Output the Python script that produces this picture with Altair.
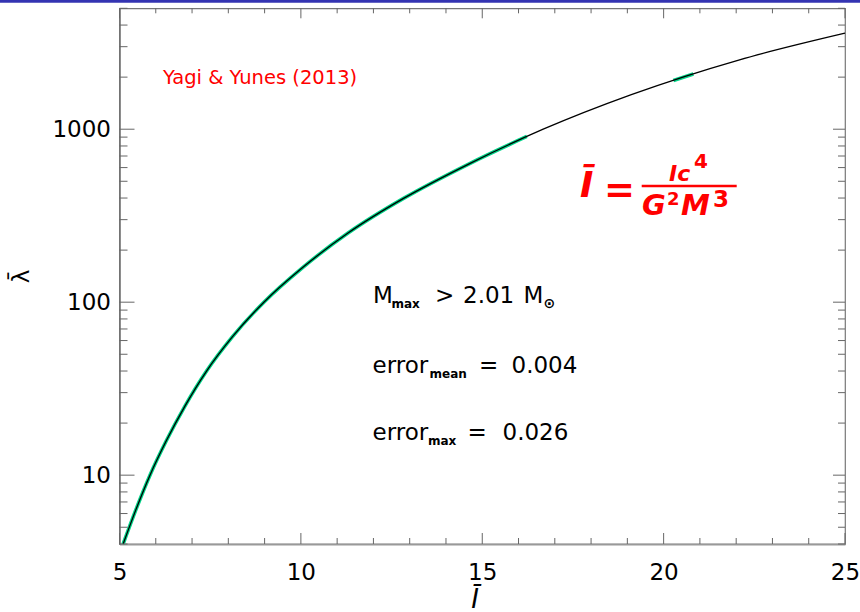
import altair as alt
import pandas as pd

# ---- data ----
I_fit = [5.10, 5.45, 5.84, 6.29, 6.80, 7.40, 8.11, 8.98, 10.04, 11.30, 12.83, 14.64, 16.68, 19.11, 22.07, 25.0]
lam_fit = [4.0, 6.3, 10, 15.8, 25, 40, 63, 100, 158, 251, 398, 631, 1000, 1585, 2512, 3590]

I_data = [5.10, 5.45, 5.84, 6.29, 6.80, 7.40, 8.11, 8.98, 10.04, 11.30, 12.83, 14.64, 16.23, 20.27, 20.82]
lam_data = [4.0, 6.3, 10, 15.8, 25, 40, 63, 100, 158, 251, 398, 631, 908, 1914, 2084]
seg_data = [0] * 13 + [1, 1]

x_major = [5, 10, 15, 20, 25]
x_minor = [v for v in range(6, 25) if v % 5 != 0]
y_major = [10, 100, 1000]
y_minor = [4, 5, 6, 7, 8, 9, 20, 30, 40, 50, 60, 70, 80, 90,
           200, 300, 400, 500, 600, 700, 800, 900, 2000, 3000, 4000, 5000]

# ---- layout ----
L, T = 119.5, 8.3
W, H = 725.5, 535.7
FONT = "DejaVu Sans"
AX = "#666666"
RED = "#FF0000"

xs = alt.Scale(domain=[5, 25], nice=False, zero=False)
ys = alt.Scale(type="log", domain=[4, 5000], nice=False)

xax = alt.Axis(values=x_major, ticks=False, labelFontSize=23, labelFont=FONT,
               labelColor="black", labelBaseline="alphabetic", labelPadding=35,
               labelFlush=False, domainColor="#999999", domainWidth=2, grid=False,
               title=None)
yax = alt.Axis(values=y_major, format="d", ticks=False, labelFontSize=23,
               labelFont=FONT, labelColor="black", labelPadding=9, labelFlush=False,
               domainColor="#555555", domainWidth=1, grid=False, title=None)

fit = pd.DataFrame({"I": I_fit, "lam": lam_fit})
dat = pd.DataFrame({"I": I_data, "lam": lam_data, "seg": seg_data})
one = pd.DataFrame({"k": [0]})

green = alt.Chart(dat).mark_line(color="#00D488", strokeWidth=3.6, interpolate="monotone").encode(
    x=alt.X("I:Q", scale=xs, axis=xax),
    y=alt.Y("lam:Q", scale=ys, axis=yax),
    detail="seg:N",
)

black = alt.Chart(fit).mark_line(color="black", strokeWidth=1.3, interpolate="monotone").encode(
    x=alt.X("I:Q", scale=xs, axis=xax), y=alt.Y("lam:Q", scale=ys, axis=yax))


def xticks(vals, y0, y1):
    return alt.Chart(pd.DataFrame({"I": vals})).mark_rule(color=AX, strokeWidth=1).encode(
        x=alt.X("I:Q", scale=xs, axis=xax), y=alt.value(y0), y2=alt.value(y1))


def yticks(vals, x0, x1):
    return alt.Chart(pd.DataFrame({"lam": vals})).mark_rule(color=AX, strokeWidth=1).encode(
        y=alt.Y("lam:Q", scale=ys, axis=yax), x=alt.value(x0), x2=alt.value(x1))


ticks = [
    xticks(x_major, H, H - 11), xticks(x_minor, H, H - 6),
    xticks(x_major, 0, 10), xticks(x_minor, 0, 5),
    yticks(y_major, 0, 15), yticks(y_minor, 0, 8),
    yticks(y_major, W, W - 12), yticks(y_minor, W, W - 7),
]


def txt(s, px, py, size, color="black", style="normal", weight="normal",
        align="left", baseline="alphabetic"):
    return alt.Chart(one).mark_text(
        text=s, align=align, baseline=baseline, font=FONT, fontSize=size,
        color=color, fontStyle=style, fontWeight=weight,
    ).encode(x=alt.value(px - L), y=alt.value(py - T))


# y title, rotated through the angle channel
ytitle = alt.Chart(one).mark_text(
    text="λ̄", align="center", baseline="middle", font=FONT, fontSize=23, color="black",
    angle=270,
).encode(x=alt.value(22 - L), y=alt.value(276.5 - T), angle=alt.value(270))

notes = [
    # x title
    txt("Ī", 475, 608, 26, style="italic", align="center"),
    txt("Yagi & Yunes (2013)", 163, 84, 19.5, RED),
    # line 1
    txt("M", 373, 303, 23), txt("max", 391.5, 308, 12, weight="bold"),
    txt(">", 435, 303, 23), txt("2.01", 463, 303, 23),
    txt("M", 523.5, 303, 23), txt("⊙", 543.5, 308, 14, weight="bold"),
    # line 2
    txt("error", 372.5, 373.3, 23), txt("mean", 429.5, 378.3, 12, weight="bold"),
    txt("=", 479, 373.3, 23), txt("0.004", 511.5, 373.3, 23),
    # line 3
    txt("error", 372.5, 440, 23), txt("max", 428, 445, 12, weight="bold"),
    txt("=", 467.5, 440, 23), txt("0.026", 502.5, 440, 23),
    # formula
    txt("Ī", 580, 197, 36, RED, "italic", "bold"),
    txt("=", 604, 202, 37, RED, "normal", "bold"),
    txt("Ic", 669, 180.7, 22, RED, "italic", "bold"),
    txt("4", 694, 167.5, 20, RED, "normal", "bold"),
    txt("G", 642, 215, 29, RED, "italic", "bold"),
    txt("2", 667, 205, 18, RED, "normal", "bold"),
    txt("M", 681, 215, 29, RED, "italic", "bold"),
    txt("3", 713, 206.7, 23, RED, "normal", "bold"),
]

frac = alt.Chart(one).mark_rule(color=RED, strokeWidth=2.5).encode(
    x=alt.value(641.7 - L), x2=alt.value(736.7 - L), y=alt.value(186 - T))

band = alt.Chart(one).mark_rule(color="#3434B2", strokeWidth=2.8).encode(
    x=alt.value(-L), x2=alt.value(860 - L), y=alt.value(1.4 - T))

chart = alt.layer(green, black, *ticks, frac, band, ytitle, *notes).properties(
    width=W, height=H,
    autosize=alt.AutoSizeParams(type="none"),
    padding={"left": L, "top": T, "right": 860 - L - W, "bottom": 612 - T - H},
    background="white",
).configure_view(stroke="#777777", strokeWidth=1.2)

chart.save("out.html", embed_options={"renderer": "svg", "actions": False})
